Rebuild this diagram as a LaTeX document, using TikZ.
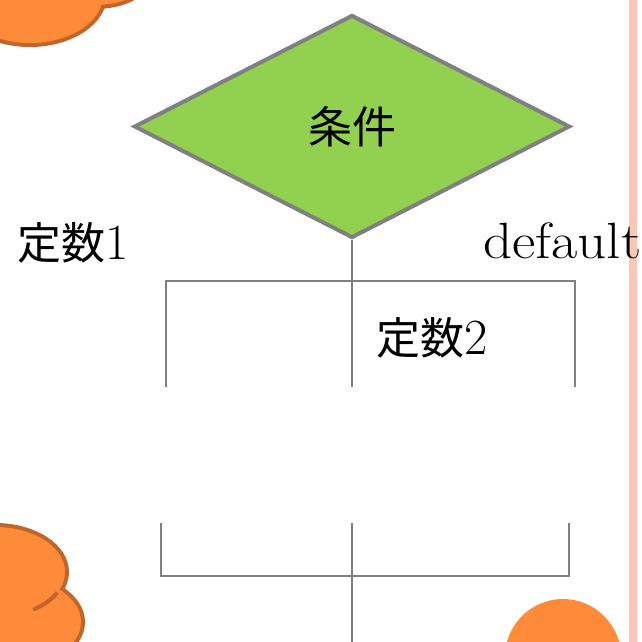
\documentclass[tikz,border=0pt]{standalone}
\usepackage{fontspec}
\newfontfamily\jpfont{Noto Sans CJK JP}
\usetikzlibrary{shapes.geometric}

\definecolor{leafgreen}{HTML}{92D050}
\definecolor{linegray}{HTML}{808080}
\definecolor{blobfill}{HTML}{FD8B39}
\definecolor{blobedge}{HTML}{C1652B}
\definecolor{stripe}{HTML}{FCC8B5}

\begin{document}
\begin{tikzpicture}[
    x=1pt, y=-1pt,
    font=\fontsize{44}{52}\selectfont,
    cond/.style={diamond, draw=linegray, line width=4pt, fill=leafgreen, aspect=1.94,
      minimum width=436pt, minimum height=223pt, inner sep=0pt},
    wire/.style={draw=linegray, line width=2.6pt},
    lbl/.style={anchor=base west, inner sep=0pt},
    blob/.style={fill=blobfill},
    blobline/.style={draw=blobedge, line width=8pt}
  ]
  \useasboundingbox[fill=white] (0,0) rectangle (642,642);

  % side stripe
  \fill[stripe] (629,0) rectangle (637,642);

  % orange blobs in the corners (thick outline first, fill on top)
  \begin{scope}
    \clip (0,0) rectangle (642,642);
    \draw[blobline] (95,-20) ellipse [x radius=50, y radius=25];
    \draw[blobline] (30,-5) ellipse [x radius=73, y radius=48];
    \fill[blob] (95,-20) ellipse [x radius=50, y radius=25];
    \fill[blob] (30,-5) ellipse [x radius=73, y radius=48];

    \draw[blobline] (-5,572) ellipse [x radius=70, y radius=45];
    \draw[blobline] (10,622) ellipse [x radius=71, y radius=45];
    \fill[blob] (-5,572) ellipse [x radius=70, y radius=45];
    \fill[blob] (10,622) ellipse [x radius=71, y radius=45];
    \draw[draw=blobedge, line width=4pt] (-5,572) ++(27:70 and 45)
      arc [start angle=27, end angle=57, x radius=70, y radius=45];

    \fill[blob] (563,657) circle [radius=58];
  \end{scope}

  % decision and branches
  \node[cond] (cond) at (352,126.5) {\jpfont 条件};

  \coordinate (stemtop) at (352,387);
  \coordinate (tl) at (166,387);
  \coordinate (tlc) at (166,281);
  \coordinate (trc) at (575,281);
  \coordinate (tr) at (575,387);

  \draw[wire] (cond.south) -- (stemtop);
  \draw[wire] (tl) -- (tlc) -- (trc) -- (tr);

  % merge at the bottom
  \coordinate (bl) at (161,523);
  \coordinate (blc) at (161,576);
  \coordinate (brc) at (569,576);
  \coordinate (br) at (569,523);
  \coordinate (stemin) at (352,523);
  \coordinate (stemout) at (352,642);

  \draw[wire] (bl) -- (blc) -- (brc) -- (br);
  \draw[wire] (stemin) -- (stemout);

  % case labels
  \node[lbl] (case1) at (17,259) {{\jpfont 定数}\scalebox{1.15}{1}};
  \node[lbl] (case2) at (376,354) {{\jpfont 定数}\scalebox{1.15}{2}};
  \node[lbl, font=\fontsize{51}{60}\selectfont] (deflt) at (483,258.5) {\scalebox{1.12}[1]{default}};
\end{tikzpicture}
\end{document}
